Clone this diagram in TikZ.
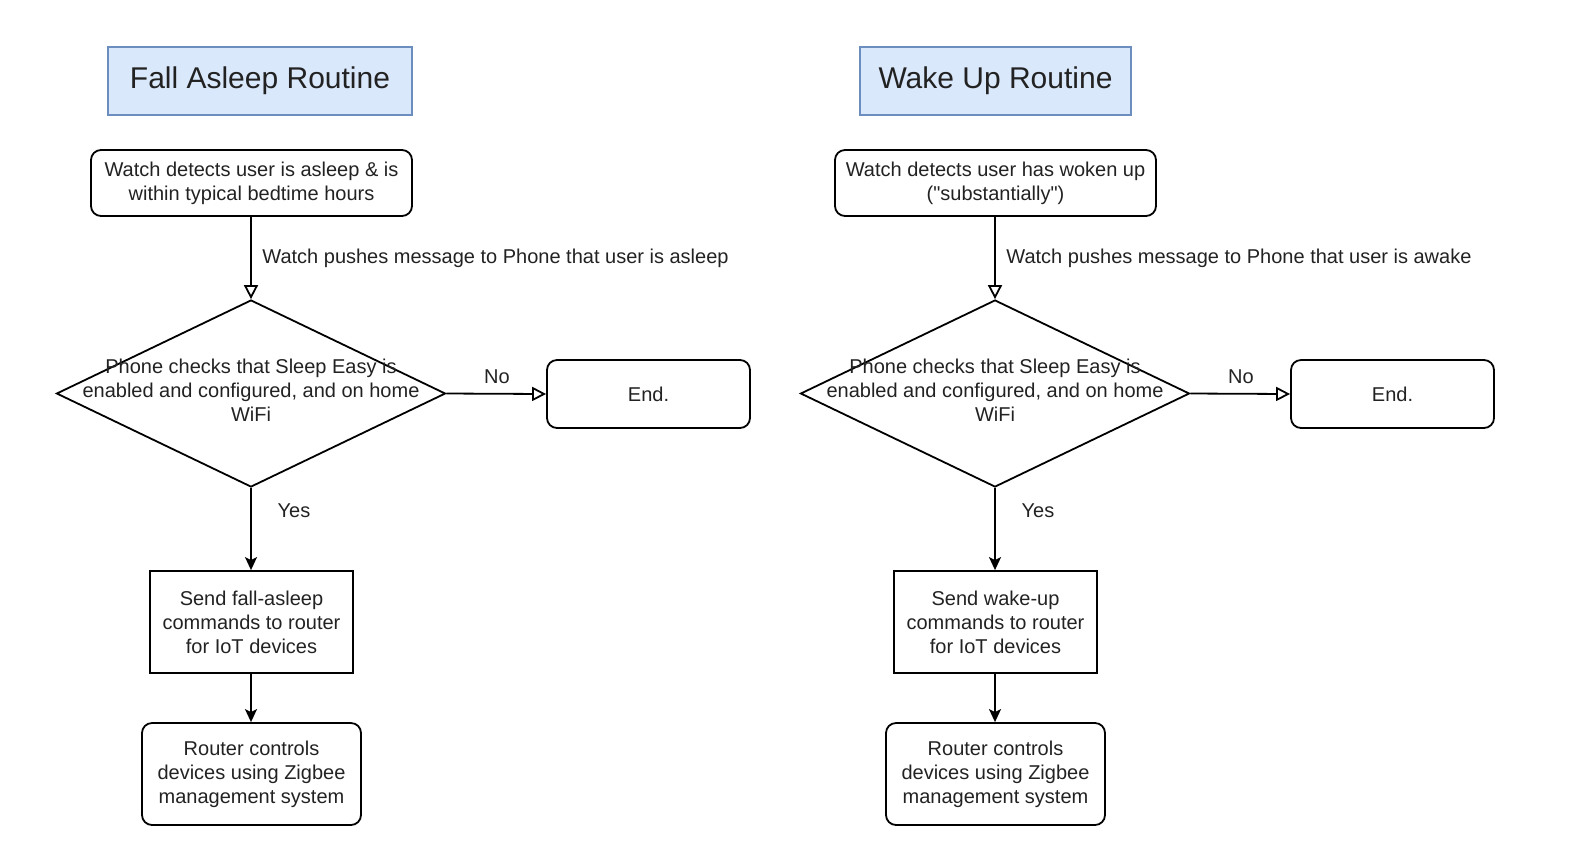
\documentclass[tikz,border=0pt]{standalone}
\usepackage{fontspec}
\setmainfont{Liberation Sans}[Ligatures=TeXOff]
\usetikzlibrary{shapes.geometric,arrows.meta}
\definecolor{titlefill}{HTML}{DAE8FC}
\definecolor{titledraw}{HTML}{6C8EBF}
\definecolor{txt}{HTML}{222222}
\tikzset{
  base/.style={draw=black, line width=0.9pt, text=txt, align=center, inner sep=0pt,
    font=\fontsize{10pt}{12pt}\selectfont},
  titlebox/.style={base, draw=titledraw, fill=titlefill, line width=0.6pt,
    font=\fontsize{15pt}{18pt}\selectfont},
  roundbox/.style={base, rounded corners=5pt},
  plainbox/.style={base},
  decision/.style={draw=black, line width=0.9pt, shape=diamond, inner sep=0pt,
    minimum width=194.5pt, minimum height=93.5pt},
  lbl/.style={text=txt, inner sep=0pt, font=\fontsize{10pt}{12pt}\selectfont, align=center},
  openarrow/.style={draw=black, line width=0.9pt, -{Triangle[open, width=7pt, length=7pt]}},
  fillarrow/.style={draw=black, line width=0.9pt, -{Stealth[width=6pt, length=6.5pt, inset=1.5pt]}},
}
\begin{document}
\begin{tikzpicture}[x=0.5pt, y=-0.5pt]
\useasboundingbox (0,0) rectangle (1584,848);

\foreach \cx/\tx/\tw/\ttl/\startA/\startB/\msg/\sendA/\pre in
  {251/260/152pt/Fall Asleep Routine/Watch detects user is asleep \& is/within typical bedtime hours/Watch pushes message to Phone that user is asleep/Send fall-asleep/L,
   995/995.5/135.5pt/Wake Up Routine/Watch detects user has woken up/("substantially")/Watch pushes message to Phone that user is awake/Send wake-up/R}
{
  \node[titlebox, minimum width=\tw, minimum height=34pt] (title\pre) at (\tx,81) {\ttl};
  \node[roundbox, minimum width=160.5pt, minimum height=33pt] (start\pre) at (\cx+0.5,183) {\startA\\\startB};
  \node[decision] (dec\pre) at (\cx,393.5) {};
  \node[lbl] (dectext\pre) at (\cx,390) {Phone checks that Sleep Easy is\\enabled and configured, and on home\\WiFi};
  \node[roundbox, minimum width=101.5pt, minimum height=34pt] (end\pre) at (\cx+397.5,394) {End.};
  \node[plainbox, minimum width=101.5pt, minimum height=51pt] (send\pre) at (\cx+0.5,622) {\sendA\\commands to router\\for IoT devices};
  \node[roundbox, minimum width=109.5pt, minimum height=51pt] (router\pre) at (\cx+0.5,774) {Router controls\\devices using Zigbee\\management system};

  \coordinate (dt\pre) at (\cx,300);
  \draw[openarrow] (start\pre.south -| dt\pre) -- (dec\pre.north);
  \node[lbl, anchor=west] (msg\pre) at (\cx+11,258) {\msg};
  \draw[openarrow] (dec\pre.east) -- (end\pre.west);
  \node[lbl] (no\pre) at (\cx+246,377) {No};
  \draw[fillarrow] (dec\pre.south) -- (send\pre.north -| dec\pre.south);
  \node[lbl] (yes\pre) at (\cx+43,511) {Yes};
  \draw[fillarrow] (send\pre.south -| dec\pre.south) -- (router\pre.north -| dec\pre.south);
}
\end{tikzpicture}
\end{document}
